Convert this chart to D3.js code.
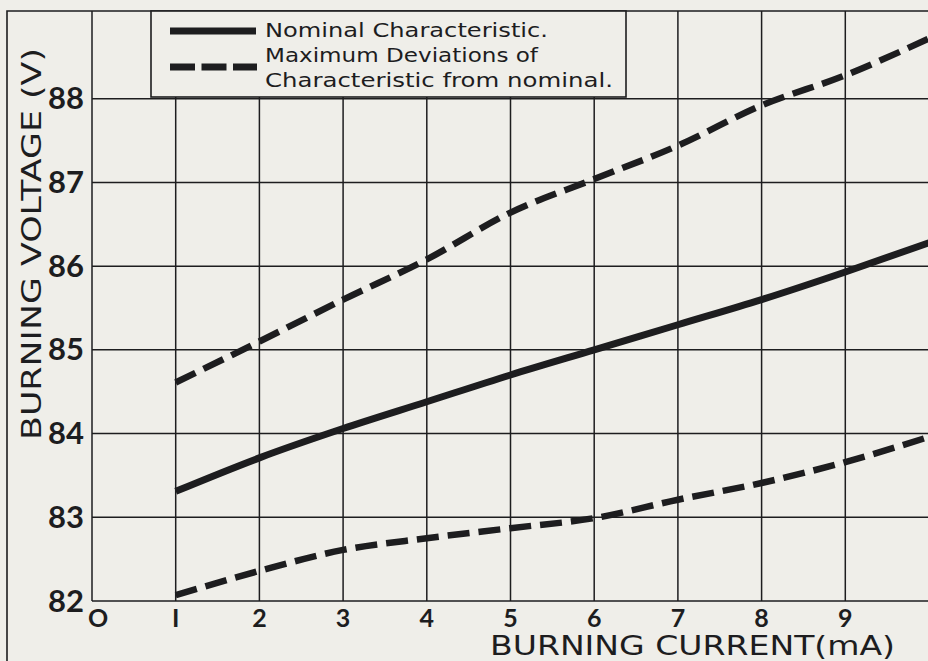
<!DOCTYPE html>
<html>
<head>
<meta charset="utf-8">
<script src="https://cdn.jsdelivr.net/npm/d3@7"></script>
<style>
  body { margin: 0; background: #efeee9; }
  svg { display: block; }
  text { font-family: "DejaVu Sans", sans-serif; fill: #1d1d1f; }
  .tick { font-family: Lato, "DejaVu Sans", sans-serif; font-weight: bold; }
</style>
</head>
<body>
<div id="chart"></div>
<script>
// Burning current (mA) sampled every 1 mA
var current = [1, 2, 3, 4, 5, 6, 7, 8, 9, 10];

// Burning voltage (V)
var nominal = [83.31, 83.71, 84.06, 84.38, 84.70, 85.00, 85.30, 85.60, 85.93, 86.28];
var upperDev = [84.61, 85.10, 85.60, 86.08, 86.64, 87.04, 87.44, 87.92, 88.28, 88.72];
var lowerDev = [82.07, 82.36, 82.61, 82.75, 82.87, 82.99, 83.21, 83.41, 83.66, 83.96];

// Tick labels as printed on the sheet
var xTicks = [0, 1, 2, 3, 4, 5, 6, 7, 8, 9];
var xTickLabels = ["O", "I", "2", "3", "4", "5", "6", "7", "8", "9"];
var yTicks = [82, 83, 84, 85, 86, 87, 88];

var legendLabels = ["Nominal Characteristic.", "Maximum Deviations of", "Characteristic from nominal."];

var svgWidth = 928;
var svgHeight = 661;
var ink = "#1d1d1f";

var svg = d3.select("#chart")
    .append("svg")
    .attr("width", svgWidth)
    .attr("height", svgHeight);

// Scales
var x = d3.scaleLinear().domain([0, 10]).range([92, 929]);
var y = d3.scaleLinear().domain([82, 89]).range([601, 15]);

// Outer frame (left + top edge of the sheet)
svg.append("path")
    .attr("d", `M7,${svgHeight} V11 H${svgWidth}`)
    .attr("fill", "none")
    .attr("stroke", ink)
    .attr("stroke-width", 1.6);

// Grid
var grid = svg.append("g").attr("stroke", ink).attr("stroke-width", 1.5);

grid.selectAll(".vline")
    .data(xTicks)
    .enter()
    .append("line")
    .attr("x1", d => x(d))
    .attr("x2", d => x(d))
    .attr("y1", y(82))
    .attr("y2", 11);

grid.selectAll(".hline")
    .data(yTicks)
    .enter()
    .append("line")
    .attr("x1", x(0))
    .attr("x2", svgWidth)
    .attr("y1", d => y(d))
    .attr("y2", d => y(d));

// Curves
var line = d3.line()
    .x((d, i) => x(current[i]))
    .y(d => y(d))
    .curve(d3.curveMonotoneX);

svg.append("path")
    .datum(nominal)
    .attr("d", line)
    .attr("fill", "none")
    .attr("stroke", ink)
    .attr("stroke-width", 7);

[upperDev, lowerDev].forEach(function(series) {
    svg.append("path")
        .datum(series)
        .attr("d", line)
        .attr("fill", "none")
        .attr("stroke", ink)
        .attr("stroke-width", 6.5)
        .attr("stroke-dasharray", "22,9");
});

// Y tick labels
svg.selectAll(".ytick")
    .data(yTicks)
    .enter()
    .append("text")
    .attr("class", "tick")
    .attr("x", 84)
    .attr("y", d => y(d))
    .attr("dy", "0.34em")
    .attr("text-anchor", "end")
    .attr("font-size", "31px")
    .text(d => d);

// X tick labels
svg.selectAll(".xtick")
    .data(xTicks)
    .enter()
    .append("text")
    .attr("class", "tick")
    .attr("x", (d, i) => x(d) + (i === 0 ? 6 : 0))
    .attr("y", 627)
    .attr("text-anchor", "middle")
    .attr("font-size", "25px")
    .text((d, i) => xTickLabels[i]);

// Axis titles
svg.append("text")
    .attr("x", 490)
    .attr("y", 655)
    .attr("font-size", "26px")
    .attr("textLength", 405)
    .attr("lengthAdjust", "spacingAndGlyphs")
    .text("BURNING CURRENT(mA)");

svg.append("text")
    .attr("transform", "translate(41, 440) rotate(-90)")
    .attr("font-size", "26px")
    .attr("textLength", 392)
    .attr("lengthAdjust", "spacingAndGlyphs")
    .text("BURNING VOLTAGE (V)");

// Legend
var legend = svg.append("g");

legend.append("rect")
    .attr("x", 151)
    .attr("y", 11)
    .attr("width", 475)
    .attr("height", 86)
    .attr("fill", "#efeee9")
    .attr("stroke", ink)
    .attr("stroke-width", 1.6);

legend.append("line")
    .attr("x1", 170).attr("x2", 256)
    .attr("y1", 31).attr("y2", 31)
    .attr("stroke", ink)
    .attr("stroke-width", 7);

legend.append("line")
    .attr("x1", 170).attr("x2", 257)
    .attr("y1", 67).attr("y2", 67)
    .attr("stroke", ink)
    .attr("stroke-width", 7)
    .attr("stroke-dasharray", "25,6.5");

var legendWidths = [283, 273, 348];
legend.selectAll(".ltext")
    .data(legendLabels)
    .enter()
    .append("text")
    .attr("x", 265)
    .attr("y", (d, i) => 37 + i * 25)
    .attr("font-size", "19px")
    .attr("textLength", (d, i) => legendWidths[i])
    .attr("lengthAdjust", "spacingAndGlyphs")
    .text(d => d);
</script>
</body>
</html>
